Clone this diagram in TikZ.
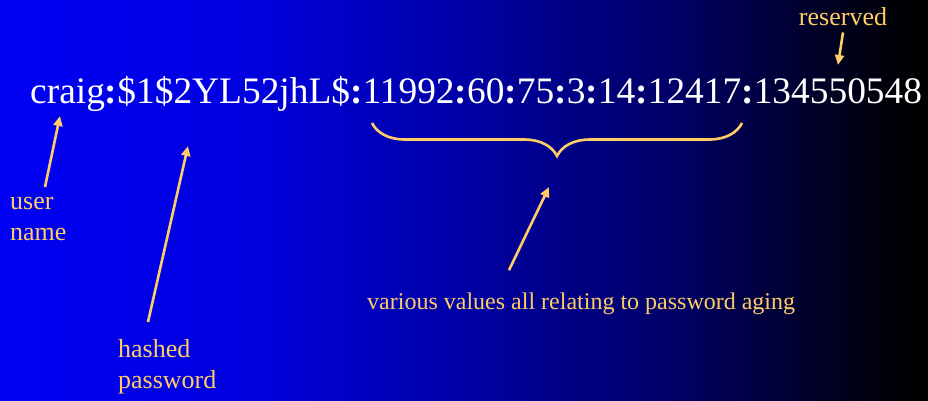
\documentclass[tikz,border=0pt]{standalone}
\usepackage{fontspec}
\setmainfont{Liberation Serif}
\usetikzlibrary{arrows.meta,decorations.pathreplacing}
\definecolor{shadowlabel}{RGB}{255,204,102}
\pgfdeclarehorizontalshading{shadowfade}{100bp}{rgb(0bp)=(0,0,0.96); rgb(25bp)=(0,0,0.96); rgb(38bp)=(0,0,0.88); rgb(50bp)=(0,0,0.65); rgb(62bp)=(0,0,0.38); rgb(73bp)=(0,0,0.03); rgb(75bp)=(0,0,0); rgb(100bp)=(0,0,0)}
\newcommand{\pwsep}{\textbf{:}}
\tikzset{
  lbl/.style={inner sep=0pt,text=shadowlabel,font=\fontsize{26}{31}\selectfont,align=left},
  ptr/.style={->,line width=2.6pt,shadowlabel}
}

\begin{document}
\begin{tikzpicture}[x=1pt,y=-1pt,>={Triangle[length=10pt,width=9pt]}]
\shade[shading=shadowfade] (0,0) rectangle (928,400);
\useasboundingbox (0,0) rectangle (928,400);
\node[anchor=base west,inner sep=0pt,text=white,font=\fontsize{37.4}{44}\selectfont] (entry) at (30,103) {craig\pwsep\$1\$2YL52jhL\$\pwsep11992\pwsep60\pwsep75\pwsep3\pwsep14\pwsep12417\pwsep134550548};
\node[lbl,anchor=base] (reserved) at (843,25) {reserved};
\node[lbl,anchor=north west] (user) at (10,197) {user\\name};
\node[lbl,anchor=north west] (hashed) at (118,339) {hashed\\password};
\node[lbl,anchor=base west,font=\fontsize{24}{29}\selectfont] (aging) at (367,309) {various values all relating to password aging};
\coordinate (resTip) at (838,65);\coordinate (userTip) at (60,116);\coordinate (hashTip) at (188,146);\coordinate (agingTip) at (549,187);
\draw[ptr] ([yshift=-7pt]reserved.south) -- (resTip);
\draw[ptr] ([xshift=35pt,yshift=10pt]user.north west) -- (userTip);
\draw[ptr] ([xshift=30pt,yshift=17pt]hashed.north west) -- (hashTip);
\draw[ptr] ([xshift=142pt,yshift=22pt]aging.north west) -- (agingTip);
\draw[shadowlabel,line width=2.6pt,decorate,decoration={brace,amplitude=33pt}] (742,123) -- (372,123);
\end{tikzpicture}
\end{document}
